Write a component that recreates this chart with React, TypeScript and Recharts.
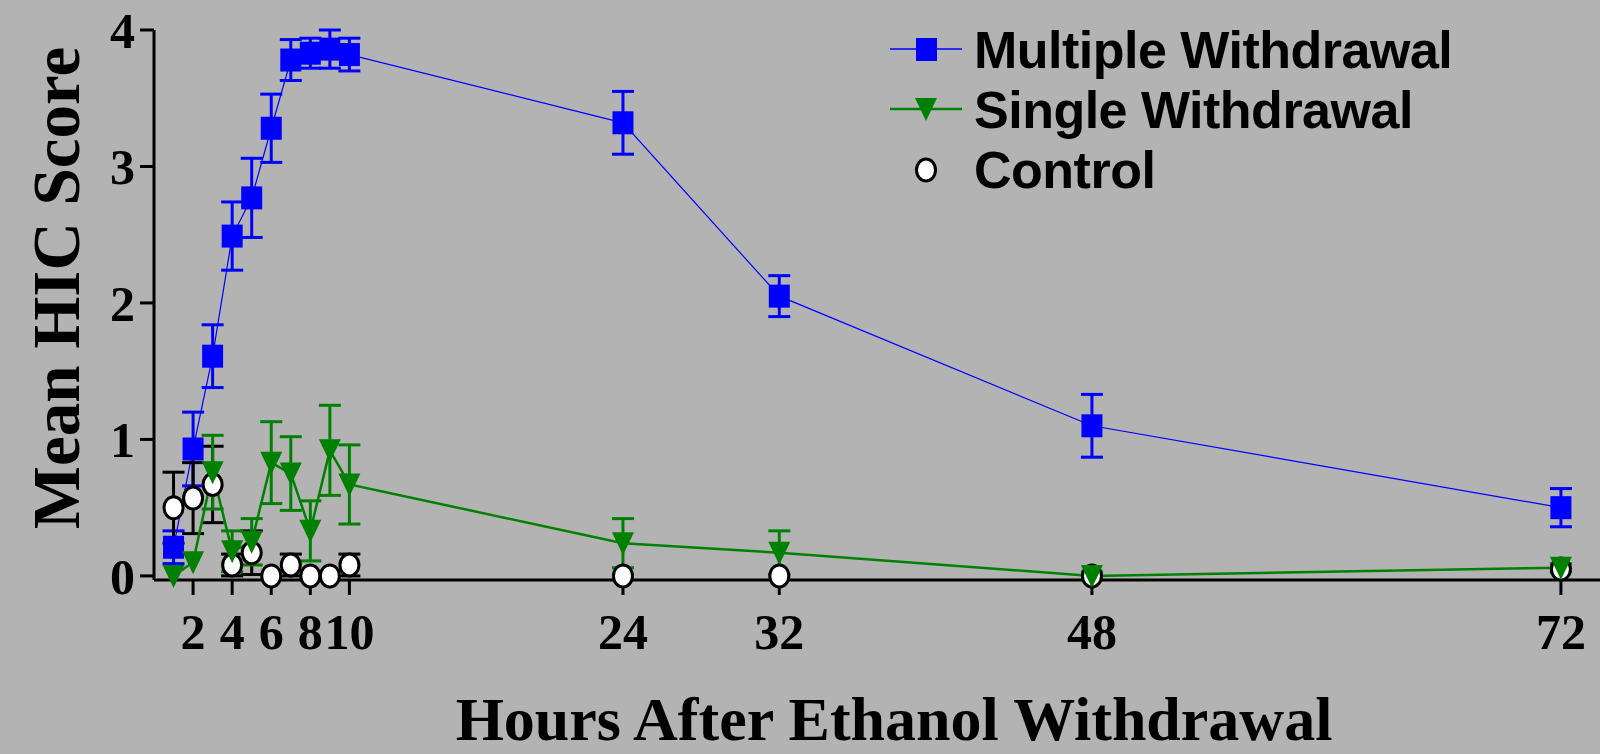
import { ComposedChart, Line, XAxis, YAxis, ErrorBar } from 'recharts';

const hours = [1, 2, 3, 4, 5, 6, 7, 8, 9, 10, 24, 32, 48, 72];
const multiple = [0.21, 0.93, 1.61, 2.49, 2.77, 3.28, 3.78, 3.83, 3.86, 3.82, 3.32, 2.05, 1.1, 0.5];
const multipleErr = [0.12, 0.27, 0.23, 0.25, 0.29, 0.25, 0.15, 0.11, 0.14, 0.12, 0.23, 0.15, 0.23, 0.14];
const single = [0, 0.1, 0.76, 0.18, 0.25, 0.83, 0.75, 0.33, 0.92, 0.67, 0.24, 0.17, 0, 0.06];
const singleErr = [0, 0, 0.27, 0.15, 0.17, 0.3, 0.27, 0.22, 0.33, 0.29, 0.18, 0.16, 0.03, 0.03];
const control = [0.5, 0.57, 0.67, 0.08, 0.17, 0, 0.08, 0, 0, 0.08, 0, 0, 0, 0.05];
const controlErr = [0.26, 0.26, 0.28, 0.08, 0.16, 0, 0.08, 0, 0, 0.08, 0, 0, 0, 0];

const xTicks = [2, 4, 6, 8, 10, 24, 32, 48, 72];
const yTicks = [0, 1, 2, 3, 4];

const data = hours.map((h, i) => ({
  hour: h,
  multiple: multiple[i],
  multipleErr: multipleErr[i],
  single: single[i],
  singleErr: singleErr[i],
  control: control[i],
  controlErr: controlErr[i],
}));

const SERIF = '"Liberation Serif", "Times New Roman", serif';
const SANS = '"Liberation Sans", Arial, sans-serif';
const BLUE = '#0000ff';
const GREEN = '#008000';

const Square = (p: any) =>
  p.cx == null ? null : <rect key={`sq${p.index}`} x={p.cx - 10.5} y={p.cy - 11.5} width={21} height={23} fill={BLUE} />;

const Tri = (p: any) =>
  p.cx == null ? null : (
    <polygon key={`tr${p.index}`} points={`${p.cx - 11},${p.cy - 11} ${p.cx + 11},${p.cy - 11} ${p.cx},${p.cy + 12}`} fill={GREEN} />
  );

const Ring = (p: any) =>
  p.cx == null ? null : (
    <ellipse key={`ci${p.index}`} cx={p.cx} cy={p.cy} rx={9.5} ry={11} fill="#fff" stroke="#000" strokeWidth={3} />
  );

// legend drawn as an overlay so it doesn't push the plot area down
function LegendBox() {
  const rows = [
    { label: 'Multiple Withdrawal', kind: 'sq' },
    { label: 'Single Withdrawal', kind: 'tri' },
    { label: 'Control', kind: 'ci' },
  ];
  return (
    <div style={{ position: 'absolute', left: 890, top: 20, fontFamily: SANS, fontWeight: 700, fontSize: 52, color: '#000' }}>
      {rows.map((r) => (
        <div key={r.label} style={{ display: 'flex', alignItems: 'center', height: 60 }}>
          <svg width={84} height={60}>
            {r.kind === 'sq' && (
              <>
                <line x1={0} y1={29} x2={72} y2={29} stroke={BLUE} strokeWidth={1.5} />
                <rect x={26} y={18} width={21} height={23} fill={BLUE} />
              </>
            )}
            {r.kind === 'tri' && (
              <>
                <line x1={0} y1={29} x2={72} y2={29} stroke={GREEN} strokeWidth={2.5} />
                <polygon points="25,18 47,18 36,41" fill={GREEN} />
              </>
            )}
            {r.kind === 'ci' && <ellipse cx={36} cy={30} rx={9.5} ry={11} fill="#fff" stroke="#000" strokeWidth={3} />}
          </svg>
          <span style={{ lineHeight: '60px', letterSpacing: -0.5 }}>{r.label}</span>
        </div>
      ))}
    </div>
  );
}

const tickStyle = { fontFamily: SERIF, fontWeight: 700, fontSize: 50, fill: '#000' };

export default function App() {
  return (
    <div style={{ position: 'absolute', left: 0, top: 0, width: 1600, height: 754, background: '#b3b3b3' }}>
      <ComposedChart width={1600} height={754} data={data} margin={{ top: 30, right: 0, bottom: 0, left: 0 }}>
        <XAxis
          dataKey="hour"
          type="number"
          domain={[0, 74]}
          ticks={xTicks}
          interval={0}
          height={174}
          tickSize={15}
          tickMargin={18}
          stroke="#000"
          strokeWidth={3}
          tick={tickStyle}
          label={() => (
            <text x={894} y={740} textAnchor="middle" fontFamily={SERIF} fontWeight={700} fontSize={62} fill="#000">
              Hours After Ethanol Withdrawal
            </text>
          )}
        />
        <YAxis
          type="number"
          domain={[0, 4]}
          ticks={yTicks}
          width={154}
          tickSize={14}
          tickMargin={5}
          stroke="#000"
          strokeWidth={3}
          tick={tickStyle}
          label={() => (
            <text
              x={56}
              y={288}
              transform="rotate(-90 56 288)"
              textAnchor="middle"
              dominantBaseline="central"
              fontFamily={SERIF}
              fontWeight={700}
              fontSize={67}
              fill="#000"
            >
              Mean HIC Score
            </text>
          )}
        />
        <Line dataKey="multiple" stroke={BLUE} strokeWidth={1.2} dot={Square} activeDot={false} isAnimationActive={false}>
          <ErrorBar dataKey="multipleErr" width={11} strokeWidth={3} stroke={BLUE} direction="y" />
        </Line>
        <Line dataKey="control" stroke="none" dot={Ring} activeDot={false} isAnimationActive={false}>
          <ErrorBar dataKey="controlErr" width={11} strokeWidth={3} stroke="#000" direction="y" />
        </Line>
        <Line dataKey="single" stroke={GREEN} strokeWidth={2.5} dot={Tri} activeDot={false} isAnimationActive={false}>
          <ErrorBar dataKey="singleErr" width={11} strokeWidth={3} stroke={GREEN} direction="y" />
        </Line>
      </ComposedChart>
      <LegendBox />
    </div>
  );
}
